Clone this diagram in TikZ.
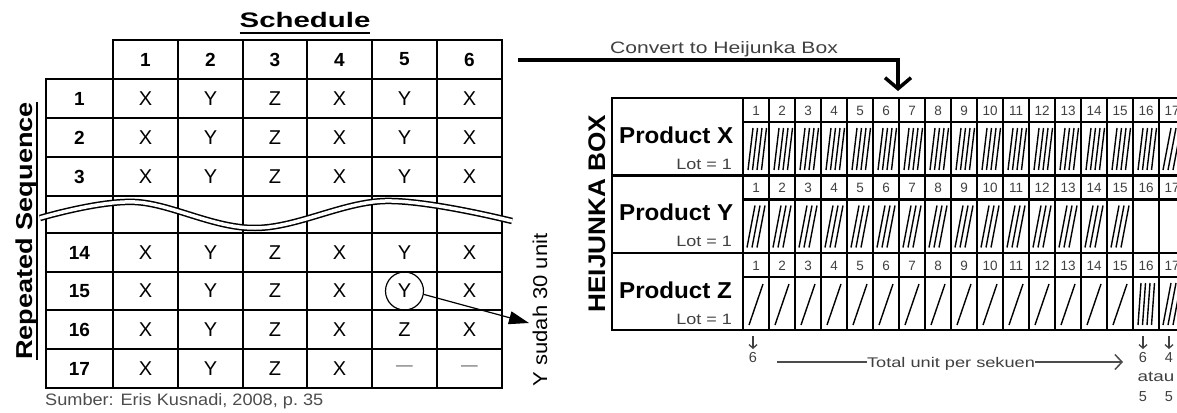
\documentclass[tikz,border=0pt]{standalone}
\usepackage{fontspec}
\setmainfont{Liberation Sans}
\usepackage{graphicx}
\usetikzlibrary{arrows.meta}
\newcommand{\fs}[1]{\fontsize{#1}{#1}\selectfont}
\newcommand{\wx}[2]{\scalebox{#1}[1]{#2}}
\newcommand{\myul}[2]{\setbox0\hbox{#2}\rlap{\raisebox{#1}{\rule{\wd0}{2pt}}}\box0}
\newcommand{\dsh}{\textcolor{black!50}{\wx{1.5}{--}}}
\begin{document}
\begin{tikzpicture}[x=1pt,y=-1pt,
  tline/.style={line width=1.8pt, line cap=rect},
  tcell/.style={inner sep=0pt, font=\fs{20}},
  thead/.style={inner sep=0pt, font=\bfseries\fs{19}},
  hline/.style={line width=2.4pt},
  hcol/.style={line width=2.1pt},
  hnum/.style={inner sep=0pt, font=\fs{13.5}, text=black!75},
  hatch/.style={line width=1.4pt},
  smalltxt/.style={inner sep=0pt, font=\fs{14.5}, text=black!75},
  prod/.style={inner sep=0pt, anchor=base west, font=\bfseries\fs{23}},
  lot/.style={inner sep=0pt, anchor=base east, font=\fs{15}, text=black!75},
  garrow/.style={line width=1.3pt, black!75},
]
\useasboundingbox (0,0) rectangle (1177,412);
\clip (0,0) rectangle (1177,412);

% ---------- Schedule table ----------
\node[anchor=base, inner sep=0pt, font=\bfseries\fs{21}] (title) at (305,28) {\wx{1.4}{\myul{-6.5pt}{Schedule}}};

\foreach \xx in {113,178,243,307,372,437,502} \draw[tline] (\xx,40) -- (\xx,388);
\draw[tline] (46,79) -- (46,388);
\draw[tline] (113,40) -- (502,40);
\foreach \yy in {79,118,157,196,233,272,310,349,388} \draw[tline] (46,\yy) -- (502,\yy);

\foreach \k/\cx in {1/145.5,2/210.5,3/275,4/339.5,5/404.5,6/469.5}
  \node[thead] (h-\k) at (\cx,59.5) {\k};

\foreach \lab/\yy/\ua/\ub/\uc/\ud/\ue/\uf in {
  1/98.5/X/Y/Z/X/Y/X, 2/137.5/X/Y/Z/X/Y/X, 3/176.5/X/Y/Z/X/Y/X,
  14/252.5/X/Y/Z/X/Y/X, 15/291/X/Y/Z/X/Y/X, 16/329.5/X/Y/Z/X/Z/X,
  17/368.5/X/Y/Z/X/\dsh/\dsh} {
  \node[thead] (rl-\lab) at (79.5,\yy) {\lab};
  \node[tcell] (cell-\lab-1) at (145.5,\yy) {\ua};
  \node[tcell] (cell-\lab-2) at (210.5,\yy) {\ub};
  \node[tcell] (cell-\lab-3) at (275,\yy) {\uc};
  \node[tcell] (cell-\lab-4) at (339.5,\yy) {\ud};
  \node[tcell] (cell-\lab-5) at (404.5,\yy) {\ue};
  \node[tcell] (cell-\lab-6) at (469.5,\yy) {\uf};
}

% wave break
\draw[line width=6.5pt] plot[smooth, tension=0.6] coordinates {(40,218) (135,202) (255,228) (385,201) (512,221)};
\draw[line width=3.5pt, white] plot[smooth, tension=0.6] coordinates {(40,218) (135,202) (255,228) (385,201) (512,221)};

\node[rotate=90, anchor=base, inner sep=0pt, font=\bfseries\fs{23}] (rseq) at (32,231) {\wx{1.18}{\myul{-6pt}{Repeated Sequence}}};

% circle and note
\node[circle, draw, line width=1.2pt, minimum size=38pt, inner sep=0pt] (circ) at (cell-15-5) {};
\node[rotate=90, anchor=base, inner sep=0pt, font=\fs{20}] (ynote) at (547,310) {\wx{1.1}{Y sudah 30 unit}};
\coordinate (ytip) at (529,323);
\draw[line width=1.2pt, -{Triangle[length=20pt,width=13pt]}] (circ.-10) -- (ytip);

\node[anchor=base west, inner sep=0pt, font=\fs{16.5}, text=black!70] (src) at (45,405) {\wx{1.1}{Sumber: Eris Kusnadi, 2008, p.~35}};

% ---------- convert arrow ----------
\node[anchor=base, inner sep=0pt, font=\fs{16.5}, text=black!75] (conv) at (724,53) {\wx{1.28}{Convert to Heijunka Box}};
\coordinate (cvA) at (518,60);
\coordinate (cvB) at (898,91);
\draw[line width=3.5pt, -{Straight Barb[length=11pt,width=26pt]}] (cvA) -| (cvB);

% ---------- Heijunka box ----------
\draw[hline] (612,98) rectangle (1200,330);
\draw[hline] (612,175.5) -- (1200,175.5);
\draw[hline] (612,253) -- (1200,253);
\foreach \k in {0,...,17} \draw[hcol] (743+26*\k,98) -- (743+26*\k,330);
\foreach \t in {98,175.5,253} \draw[hcol] (743,\t+24) -- (1200,\t+24);

\node[rotate=90, anchor=base, inner sep=0pt, font=\bfseries\fs{24}] (hbox) at (605,213.5) {\wx{1.09}{HEIJUNKA BOX}};

\foreach \b/\t/\p in {1/98/X,2/175.5/Y,3/253/Z} {
  \node[prod] (prod-\b) at (619,\t+45) {\wx{1.05}{Product \p}};
  \node[lot] (lot-\b) at (732,\t+71) {\wx{1.2}{Lot = 1}};
  \foreach \k in {1,...,17}
    \node[hnum] (num-\b-\k) at (743+26*\k-13,\t+12.5) {\k};
}

% hatches: X (cols 1-16), Z col 16
\foreach \k in {0,...,15} {
  \foreach \i in {0,...,3}
    \draw[hatch] (743+26*\k+5+4.5*\i,170) -- (743+26*\k+10+4.5*\i,128);
}
\foreach \i in {0,...,3}
  \draw[hatch] (743+26*15+5+4.5*\i,325) -- (743+26*15+8+4.5*\i,283);
% Y (cols 1-15), Z (cols 1-15)
\foreach \k in {0,...,14} {
  \foreach \i in {0,...,2}
    \draw[hatch] (743+26*\k+4+5*\i,247.5) -- (743+26*\k+12+5*\i,205.5);
  \draw[hatch] (743+26*\k+6,325) -- (743+26*\k+20,284);
}
% col 17: X and Z
\foreach \i in {0,...,2} {
  \draw[hatch] (1159+4+5*\i,170) -- (1159+12+5*\i,128);
  \draw[hatch] (1159+4+5*\i,325) -- (1159+12+5*\i,283);
}

% ---------- totals ----------
\coordinate (tl) at (777,362);
\coordinate (tr) at (1123,362);
\node[anchor=base, inner sep=0pt, font=\fs{14}, text=black!75] (tot) at (951,367) {\wx{1.3}{Total unit per sekuen}};
\draw[line width=2pt, black!70] (tl) -- (tl -| tot.west);
\draw[line width=2pt, black!70, -{Straight Barb[length=7pt,width=15pt,line width=1.5pt]}] (tot.east |- tr) -- (tr);

\foreach \nm/\xx in {a1/753, a16/1143, a17/1169} {
  \coordinate (\nm-top) at (\xx,336);
  \coordinate (\nm-bot) at (\xx,349);
  \draw[garrow, -{Straight Barb[length=3.5pt,width=8pt]}] (\nm-top) -- (\nm-bot);
}
\node[smalltxt] (v1) at (753,358) {6};
\node[smalltxt] (v16) at (1143,358) {6};
\node[smalltxt] (v17) at (1169,358) {4};
\node[smalltxt] (atau) at (1156,377) {\wx{1.3}{atau}};
\node[smalltxt] (w16) at (1143,397) {5};
\node[smalltxt] (w17) at (1169,397) {5};
\end{tikzpicture}
\end{document}
